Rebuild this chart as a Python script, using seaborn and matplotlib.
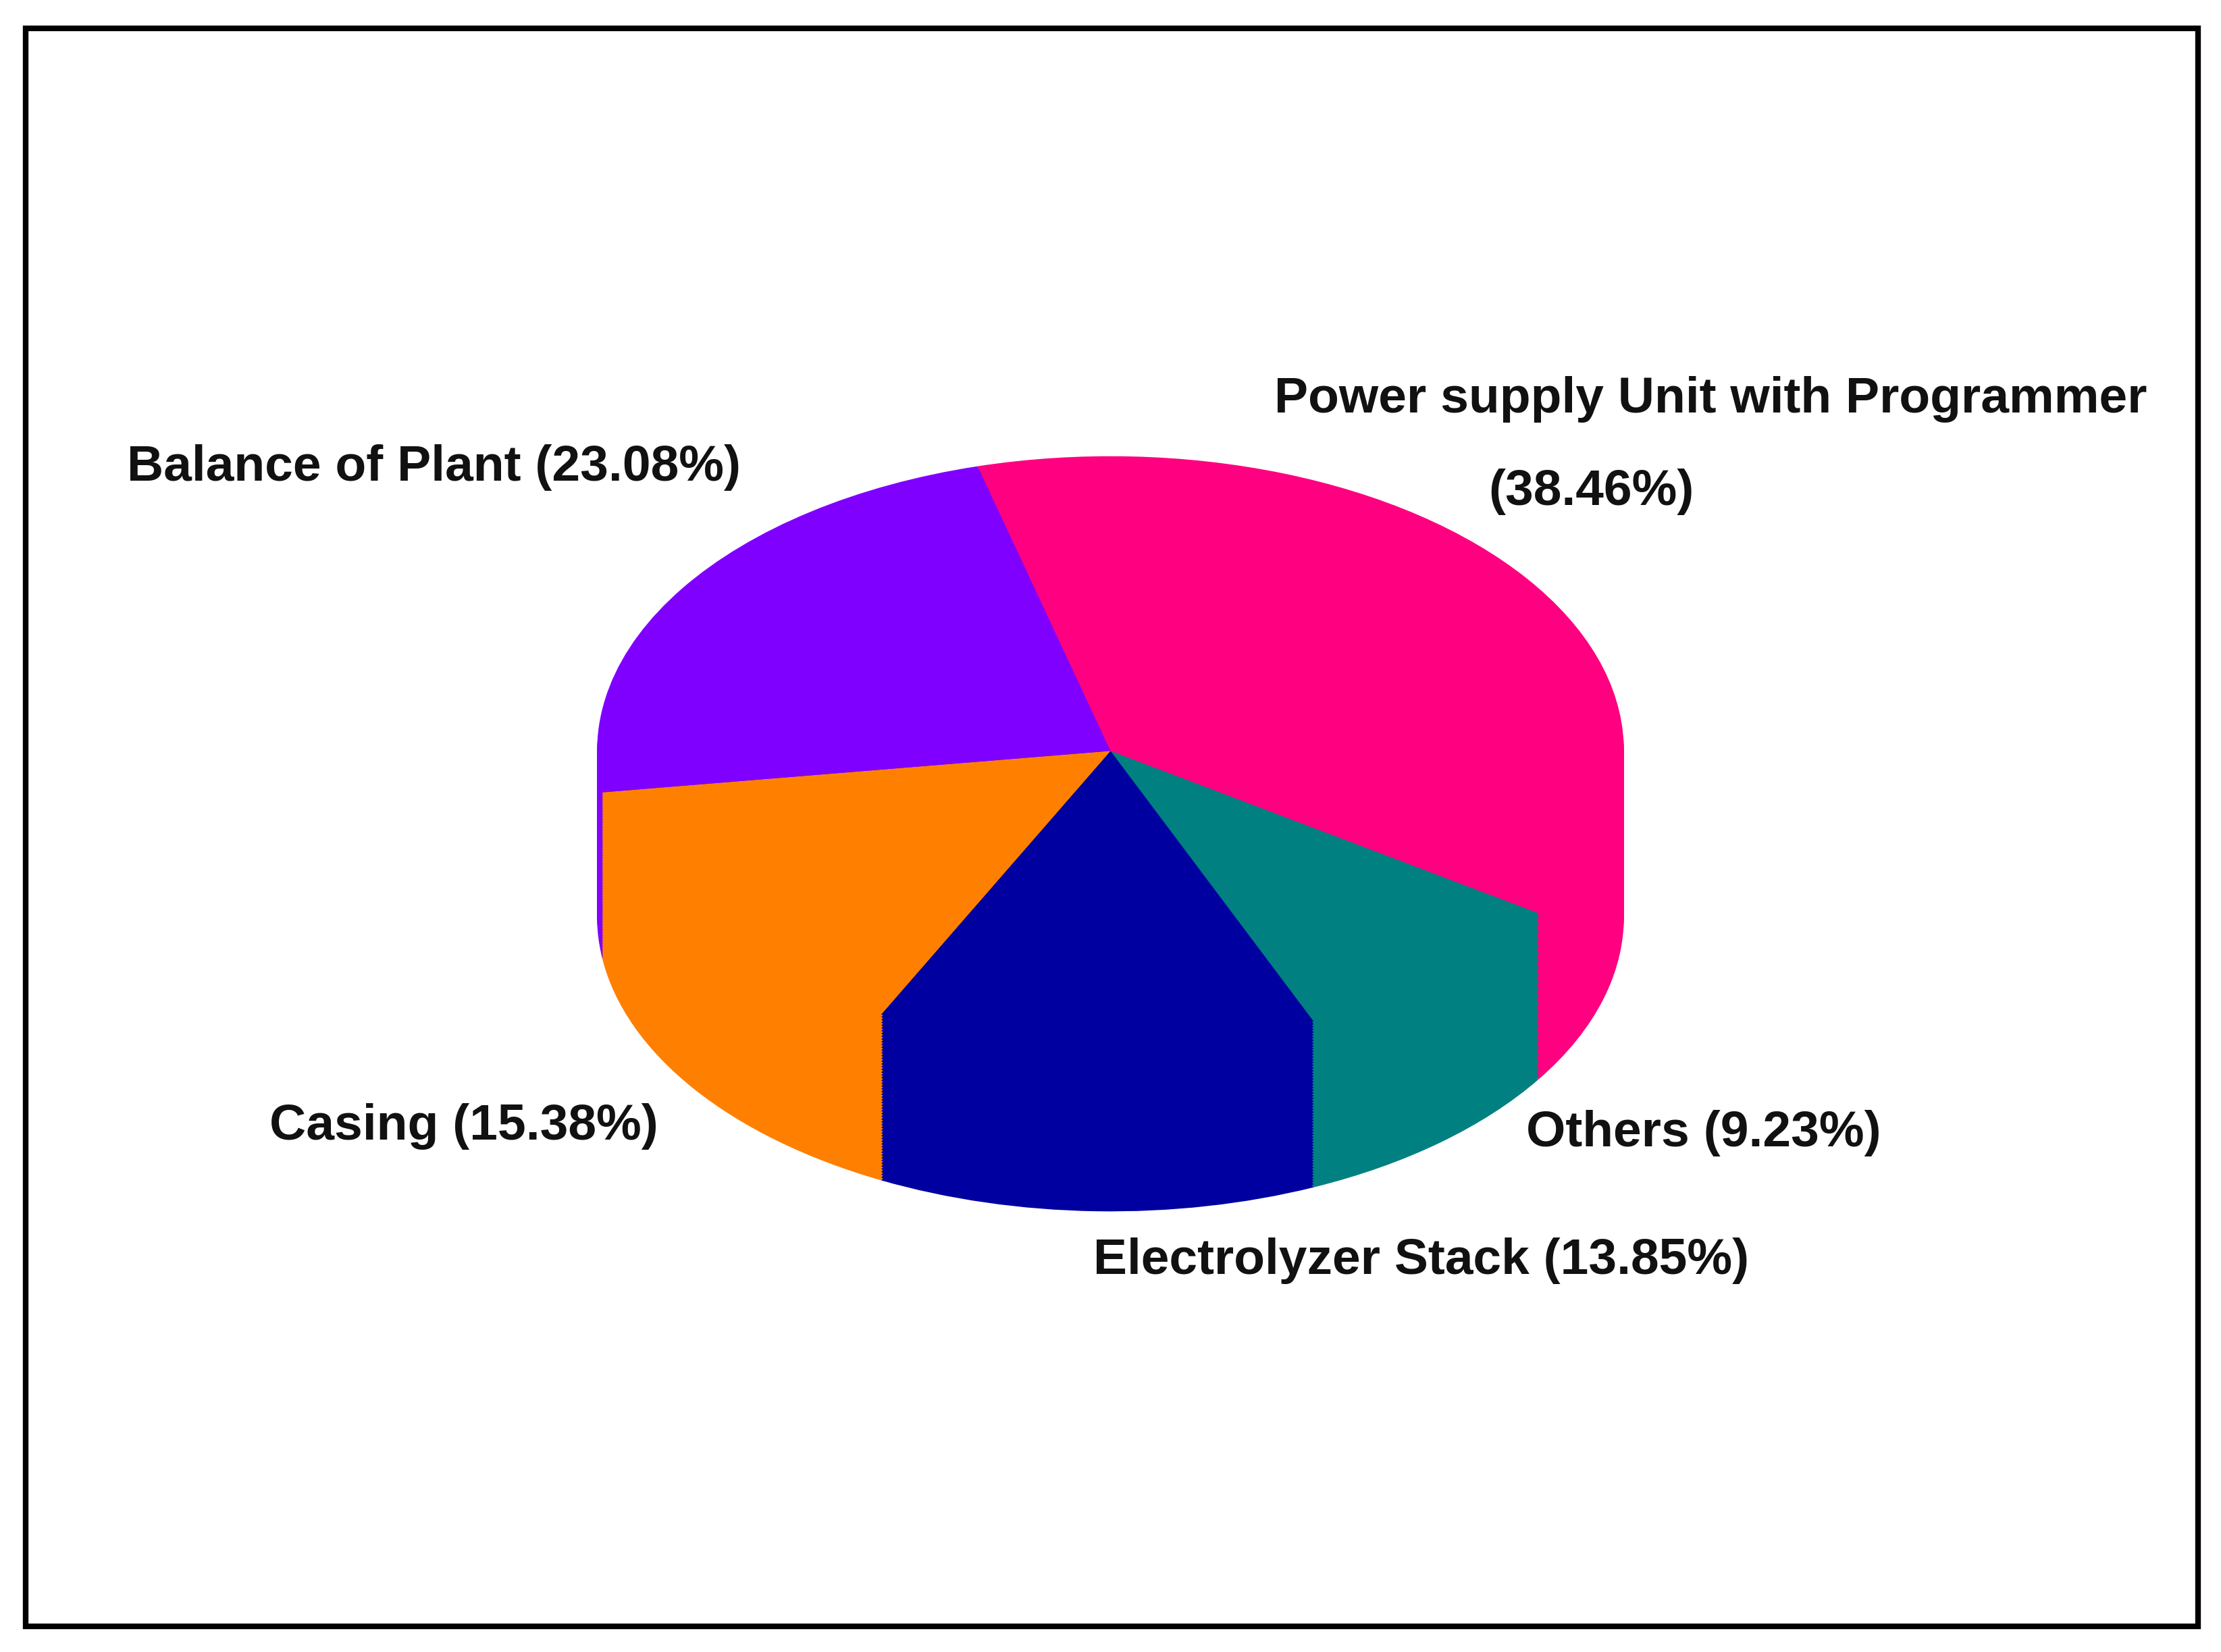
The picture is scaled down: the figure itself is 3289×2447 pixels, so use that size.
import numpy as np
import matplotlib.pyplot as plt
import seaborn as sns
from matplotlib.patches import Rectangle

sns.set_theme(style="white")
plt.rcParams['font.family'] = ['Liberation Sans', 'DejaVu Sans']

labels = ["Power supply Unit with Programmer", "Others", "Electrolyzer Stack", "Casing", "Balance of Plant"]
shares = [38.46, 9.23, 13.85, 15.38, 23.08]
colors = ["#FF0080", "#008080", "#0000A0", "#FF8000", "#8000FF"]

W, H = 1566, 1166
fig = plt.figure(figsize=(32.89, 24.47), dpi=100)

# background axes in reference pixel units
bg = fig.add_axes([0, 0, 1, 1])
bg.set_xlim(0, W)
bg.set_ylim(H, 0)
bg.axis("off")
bg.add_patch(Rectangle((18, 20), 1532, 1128, fill=False, edgecolor="black", linewidth=6))

# pie geometry (top ellipse centre, radii, depth)
cx, cy, rx, ry, depth = 783, 530, 362, 208, 117
d = depth / ry
pax = fig.add_axes([(cx - rx) / W, 1 - (cy + ry + depth) / H, 2 * rx / W, (2 * ry + depth) / H])

layers = 60
for k in range(layers + 1):
    off = -d + d * k / layers
    pax.pie(shares, colors=colors, startangle=105, counterclock=False,
            center=(0, off), radius=1, wedgeprops=dict(linewidth=0, antialiased=True))
pax.set_aspect("auto")
pax.set_xlim(-1, 1)
pax.set_ylim(-1 - d, 1)
pax.axis("off")

fs = 54
txt = dict(fontsize=fs, fontweight="bold", color="#111111", ha="center", va="center")
bg.text(1206, 282, "Power supply Unit with Programmer", **txt)
bg.text(1122, 347, f"({shares[0]:.2f}%)", **txt)
bg.text(306, 330, f"{labels[4]} ({shares[4]:.2f}%)", **txt)
bg.text(327, 795, f"{labels[3]} ({shares[3]:.2f}%)", **txt)
bg.text(1201, 800, f"{labels[1]} ({shares[1]:.2f}%)", **txt)
bg.text(1002, 890, f"{labels[2]} ({shares[2]:.2f}%)", **txt)

fig.savefig("out.png", dpi=100)
